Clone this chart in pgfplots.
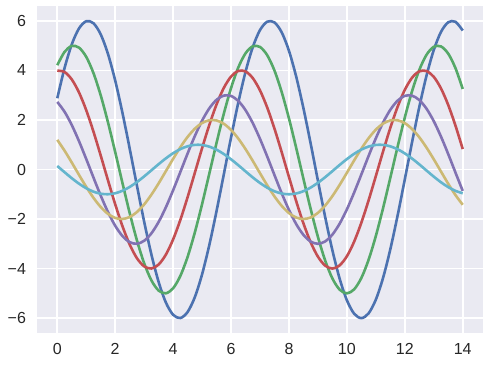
\documentclass[border=0pt]{standalone}
\usepackage{pgfplots}
\usepackage{pgfplotstable}
\pgfplotsset{compat=1.18}
\usepackage{fontspec}
\setmainfont{Liberation Sans}
\definecolor{sbblue}{HTML}{4C72B0}
\definecolor{sbgreen}{HTML}{55A868}
\definecolor{sbred}{HTML}{C44E52}
\definecolor{sbpurple}{HTML}{8172B2}
\definecolor{sbyellow}{HTML}{CCB974}
\definecolor{sbcyan}{HTML}{64B5CD}
\definecolor{sbbg}{HTML}{EAEAF2}
\definecolor{sbtext}{HTML}{262626}
\pgfplotstableread{
x s1 s2 s3 s4 s5 s6
0.00 2.876 4.208 3.990 2.728 1.197 0.141
0.25 4.090 4.745 3.936 2.334 0.763 -0.108
0.50 5.049 4.988 3.637 1.796 0.282 -0.351
0.75 5.694 4.920 3.112 1.145 -0.216 -0.572
1.00 5.985 4.547 2.394 0.423 -0.702 -0.757
1.25 5.904 3.891 1.527 -0.325 -1.143 -0.895
1.50 5.456 2.993 0.564 -1.052 -1.514 -0.978
1.75 4.669 1.909 -0.433 -1.715 -1.790 -0.999
2.00 3.591 0.706 -1.403 -2.270 -1.955 -0.959
2.25 2.290 -0.541 -2.286 -2.685 -1.999 -0.859
2.50 0.847 -1.754 -3.027 -2.933 -1.918 -0.706
2.75 -0.649 -2.858 -3.580 -2.998 -1.718 -0.508
3.00 -2.105 -3.784 -3.910 -2.877 -1.411 -0.279
3.25 -3.430 -4.475 -3.997 -2.577 -1.016 -0.033
3.50 -4.541 -4.888 -3.836 -2.117 -0.559 0.215
3.75 -5.370 -4.997 -3.436 -1.525 -0.066 0.450
4.00 -5.865 -4.795 -2.822 -0.838 0.430 0.657
4.25 -5.996 -4.295 -2.033 -0.100 0.900 0.823
4.50 -5.753 -3.528 -1.118 0.645 1.314 0.938
4.75 -5.153 -2.541 -0.133 1.350 1.646 0.995
5.00 -4.233 -1.397 0.860 1.971 1.876 0.989
5.25 -3.049 -0.166 1.800 2.469 1.989 0.923
5.50 -1.676 1.076 2.628 2.814 1.979 0.799
5.75 -0.199 2.250 3.292 2.984 1.845 0.625
6.00 1.291 3.285 3.752 2.968 1.597 0.412
6.25 2.700 4.116 3.978 2.768 1.249 0.174
6.50 3.942 4.690 3.958 2.396 0.824 -0.075
6.75 4.939 4.973 3.690 1.874 0.348 -0.320
7.00 5.628 4.947 3.194 1.236 -0.150 -0.544
7.25 5.968 4.613 2.499 0.522 -0.639 -0.735
7.50 5.936 3.993 1.648 -0.226 -1.088 -0.880
7.75 5.536 3.124 0.696 -0.959 -1.469 -0.970
8.00 4.791 2.061 -0.301 -1.632 -1.759 -1.000
8.25 3.748 0.870 -1.278 -2.204 -1.940 -0.968
8.50 2.473 -0.376 -2.176 -2.639 -2.000 -0.876
8.75 1.043 -1.598 -2.939 -2.910 -1.936 -0.729
9.00 -0.451 -2.720 -3.519 -3.000 -1.751 -0.537
9.25 -1.917 -3.674 -3.880 -2.903 -1.457 -0.311
9.50 -3.264 -4.399 -4.000 -2.627 -1.073 -0.066
9.75 -4.408 -4.850 -3.871 -2.186 -0.622 0.183
10.00 -5.278 -5.000 -3.502 -1.610 -0.133 0.420
10.25 -5.820 -4.839 -2.915 -0.933 0.365 0.632
10.50 -6.000 -4.378 -2.146 -0.199 0.840 0.804
10.75 -5.807 -3.644 -1.244 0.548 1.263 0.926
11.00 -5.253 -2.683 -0.265 1.261 1.608 0.991
11.25 -4.372 -1.556 0.730 1.895 1.852 0.994
11.50 -3.220 -0.332 1.681 2.411 1.981 0.935
11.75 -1.867 0.913 2.526 2.778 1.987 0.818
12.00 -0.398 2.101 3.215 2.972 1.870 0.650
12.25 1.096 3.158 3.704 2.981 1.636 0.442
12.50 2.521 4.019 3.962 2.805 1.301 0.207
12.75 3.790 4.630 3.974 2.454 0.884 -0.042
13.00 4.823 4.953 3.740 1.951 0.413 -0.288
13.25 5.556 4.968 3.272 1.326 -0.084 -0.516
13.50 5.944 4.675 2.601 0.620 -0.576 -0.712
13.75 5.962 4.090 1.768 -0.126 -1.032 -0.863
14.00 5.609 3.252 0.826 -0.864 -1.424 -0.961
}\sinetable
\begin{document}
\begin{tikzpicture}
\begin{axis}[
  scale only axis, width=446pt, height=327pt,
  xmin=-0.7, xmax=14.7, ymin=-6.6, ymax=6.6,
  axis background/.style={fill=sbbg},
  axis line style={draw=none},
  grid=major, major grid style={white, line width=1.6pt},
  tick style={draw=none},
  xtick={0,2,...,14}, ytick={-6,-4,...,6},
  xticklabels={0,2,4,6,8,10,12,14},
  yticklabels={−6,−4,−2,0,2,4,6},
  tick label style={font=\fontsize{16}{19}\selectfont, text=sbtext},
  xticklabel style={yshift=-6.5pt},
  yticklabel style={xshift=-7.5pt},
  every axis plot/.append style={line width=2.6pt, no marks, smooth},
]
\addplot[sbblue] table[x=x, y=s1] {\sinetable};
\addplot[sbgreen] table[x=x, y=s2] {\sinetable};
\addplot[sbred] table[x=x, y=s3] {\sinetable};
\addplot[sbpurple] table[x=x, y=s4] {\sinetable};
\addplot[sbyellow] table[x=x, y=s5] {\sinetable};
\addplot[sbcyan] table[x=x, y=s6] {\sinetable};
\end{axis}
\path (current axis.south west) ++(-37pt,-33pt) coordinate (bl);
\path (current axis.north east) ++(7pt,6pt) coordinate (tr);
\path (bl) rectangle (tr);
\end{tikzpicture}
\end{document}
